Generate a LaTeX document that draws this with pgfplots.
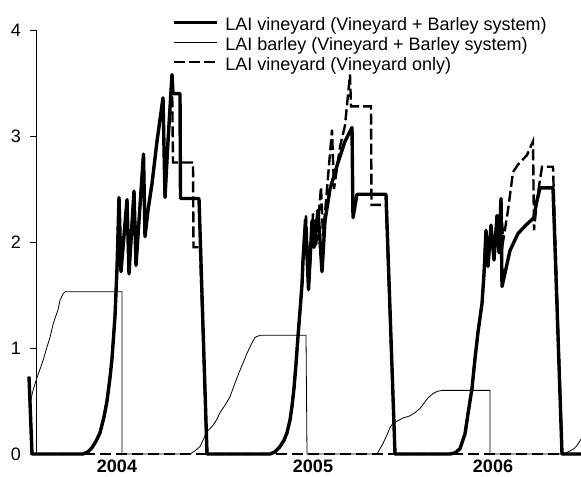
\documentclass[border=0pt]{standalone}
\usepackage{fontspec}
\setmainfont{Liberation Sans}
\usepackage{pgfplots}
\pgfplotsset{compat=1.18}
\newcommand{\lblfont}{\fontsize{18bp}{20bp}\selectfont}
\begin{document}
\begin{tikzpicture}
\begin{axis}[name=ax, scale only axis, width=545bp, height=424bp,
  xmin=36, xmax=581, ymin=0, ymax=4, clip=false,
  axis y line*=left, axis x line*=bottom,
  x axis line style={line width=2.4bp, dash pattern=on 11bp off 5bp},
  y axis line style={line width=0.8bp},
  ytick={0,1,2,3,4}, tick align=outside, major tick length=6bp,
  ytick style={line width=0.8bp, black},
  xtick={117,313,493}, xticklabels={2004,2005,2006}, xtick style={draw=none},
  tick label style={font=\lblfont, /pgf/number format/assume math mode=true},
  yticklabel style={anchor=east, inner sep=0pt, xshift=-9bp},
  xticklabel style={font=\lblfont\bfseries, anchor=base, inner sep=0pt, yshift=-12bp},
  legend style={draw=none, fill=none, inner sep=0pt, outer sep=0pt, row sep=0pt,
    at={(axis cs:172,4.12)}, anchor=north west, font=\lblfont,
    nodes={inner sep=0pt, text height=13bp, text depth=7bp}},
  legend cell align=left,
  legend image code/.code={\draw[#1] (0bp,5bp) -- (43bp,5bp); \path (50bp,5bp);},
]
% LAI vineyard, vineyard + barley system
\addplot[black, line width=3.4bp, line join=round] coordinates {
(29,0.73) (32,0) (83,0) (88,0.02) (92,0.06) (96,0.12) (100,0.2) (104,0.35) (107,0.5)
(110,0.72) (112,0.9) (115,1.3) (117,1.75) (119,2.42) (121,1.72) (127,2.40) (129,1.70)
(134,2.48) (136,1.78) (143.5,2.83) (145,2.05) (148,2.3) (152,2.55) (157,2.95) (163,3.36)
(165,2.42) (168,2.95) (172,3.58) (173,3.40) (180,3.40) (180.5,2.41) (199,2.41) (207,0)
(270,0) (275,0.02) (280,0.07) (284,0.13) (287,0.2) (290,0.32) (292,0.45) (294,0.62)
(296,0.85) (298,1.11) (300,1.35) (302,1.6) (303,1.83) (305.5,2.21) (308.5,1.55) (312,2.2)
(314,1.95) (318,2.3) (322,1.72) (325,2.2) (330,2.5) (338,2.75) (345,2.95) (352,3.08)
(353,2.23) (357,2.45) (386,2.45) (395,0)
(450,0) (455,0.01) (460,0.05) (465,0.19) (468,0.38) (472,0.62) (475,0.9) (478,1.15)
(482,1.42) (484,1.7) (486,2.11) (488,1.77) (491,2.16) (494,1.83) (497,2.25) (499,1.9)
(501,2.41) (502,1.58) (506,1.75) (510,1.92) (518,2.08) (526,2.16) (534,2.23) (536,2.35)
(540,2.51) (553,2.51) (562,0) (581,0)
};
\addlegendentry{LAI vineyard (Vineyard + Barley system)}
% LAI barley, vineyard + barley system
\addplot[black, line width=0.8bp] coordinates {
(30,0.48) (33,0.6) (37,0.72) (40,0.8) (43,0.88) (47,1.01) (50,1.10) (53,1.22) (55,1.28)
(58,1.36) (60,1.45) (63,1.51) (65,1.53) (122,1.53) (122,0)
(190,0) (195,0.03) (200,0.07) (204,0.15) (207,0.21) (213,0.27) (217,0.33) (220,0.39)
(225,0.46) (230,0.54) (235,0.67) (240,0.79) (244,0.88) (247,0.95) (251,1.03) (255,1.10)
(260,1.12) (306,1.12) (307,0)
(377,0) (380,0.05) (383,0.10) (387,0.18) (390,0.25) (393,0.29) (397,0.31) (403,0.34)
(410,0.36) (415,0.39) (420,0.43) (424,0.48) (428,0.53) (433,0.57) (437,0.59) (442,0.60)
(490,0.60) (490,0)
(562,0) (566,0.01) (570,0.03) (574,0.05) (577,0.08) (581,0.14)
};
\addlegendentry{LAI barley (Vineyard + Barley system)}
% LAI vineyard, vineyard only
\addplot[black, line width=2.4bp, dash pattern=on 11bp off 4bp] coordinates {
(29,0.73) (32,0) (83,0) (88,0.02) (92,0.06) (96,0.12) (100,0.2) (104,0.35) (107,0.5)
(110,0.72) (112,0.9) (115,1.3) (117,1.75) (119,2.42) (121,1.72) (127,2.40) (129,1.70)
(134,2.48) (136,1.78) (143.5,2.83) (145,2.05) (148,2.3) (152,2.55) (157,2.95) (163,3.36)
(165,2.42) (168,2.95) (172,3.58) (173,2.75) (193,2.75) (193.5,1.95) (200,1.95) (207,0)
(270,0) (275,0.02) (280,0.07) (284,0.13) (287,0.2) (290,0.32) (292,0.45) (294,0.62)
(296,0.85) (298,1.11) (300,1.35) (302,1.6) (303,1.83) (306,2.25) (309,1.6) (313,2.27)
(316,1.95) (321,2.52) (323,2.05) (332,3.06) (334,2.5) (340,2.9) (345,3.1) (350,3.58)
(351,3.28) (371,3.28) (371.5,2.35) (386,2.35) (395,0)
(450,0) (455,0.01) (460,0.05) (465,0.19) (468,0.38) (472,0.62) (475,0.9) (478,1.15)
(482,1.42) (484,1.7) (486,2.11) (488,1.77) (491,2.16) (494,1.83) (497,2.25) (499,1.9)
(501,2.41) (503,2.0) (508,2.3) (513,2.66) (518,2.73) (527,2.82) (533,2.95) (534,2.11)
(537,2.4) (542,2.71) (553,2.71) (553.5,2.56) (562,0) (581,0)
};
\addlegendentry{LAI vineyard (Vineyard only)}
\end{axis}
\pgfresetboundingbox
\path[use as bounding box] ([xshift=-36bp,yshift=-23bp]ax.south west) rectangle ([yshift=30bp]ax.north east);
\end{tikzpicture}
\end{document}
